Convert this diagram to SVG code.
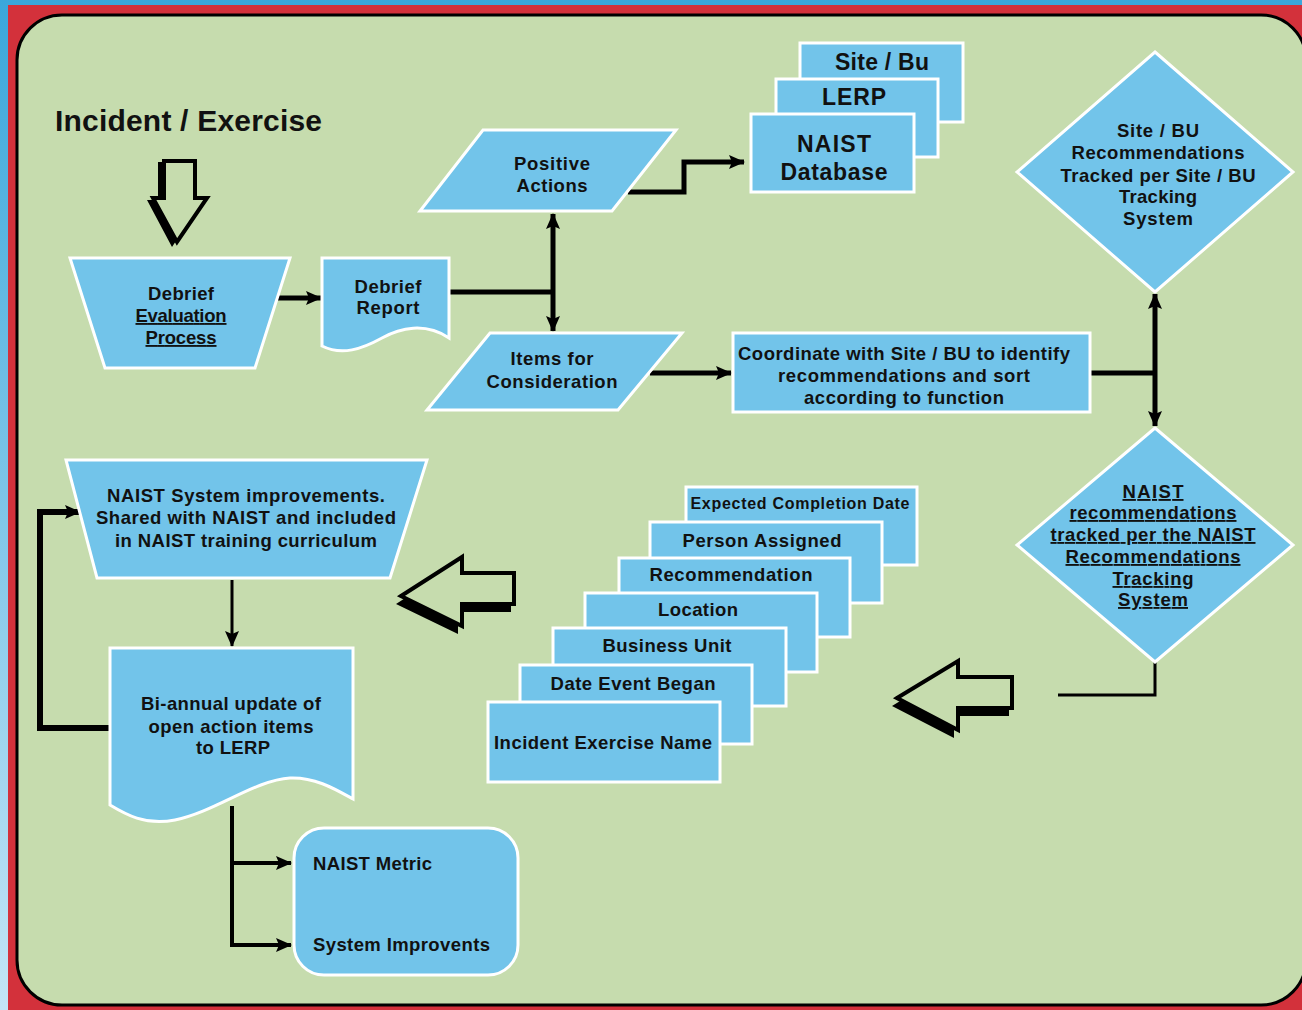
<svg xmlns="http://www.w3.org/2000/svg" width="1302" height="1010" viewBox="0 0 1302 1010">
<defs>
<linearGradient id="bg" x1="0" y1="0" x2="0" y2="1">
<stop offset="0" stop-color="#3aa7db"/>
<stop offset="1" stop-color="#c4e5f6"/>
</linearGradient>
<marker id="ah" viewBox="0 0 16 14" refX="15" refY="7" markerWidth="16" markerHeight="14" markerUnits="userSpaceOnUse" orient="auto-start-reverse">
<path d="M0,0 L16,7 L0,14 L3,7 Z" fill="#000"/>
</marker>
<style>
.box{fill:#72c4ea;stroke:#fff;stroke-width:3}
.t{font-family:"Liberation Sans",Arial,sans-serif;font-weight:bold;fill:#111;text-anchor:middle}
.s17{font-size:18.5px}
.s22{font-size:23px}
.u{text-decoration:underline}
.c{fill:none;stroke:#000;stroke-linejoin:miter}
.hollow{fill:#c6dcae;stroke:#000;stroke-width:4;stroke-linejoin:miter}
</style>
</defs>
<rect x="0" y="0" width="1302" height="1010" fill="url(#bg)"/>
<rect x="8" y="5" width="1302" height="1010" fill="#d3313b"/>
<rect x="17" y="15" width="1289" height="990" rx="45" ry="45" fill="#c6dcae" stroke="#000" stroke-width="3"/>

<text class="t" x="55" y="131" font-size="30" style="text-anchor:start" textLength="267">Incident / Exercise</text>

<g id="connectors">
<polygon points="158,162 190,162 190,200 203,200 172,247 147,200 158,200" fill="#000"/>
<polygon class="hollow" points="164,161 195,161 195,198 207,198 177,242 153,198 164,198"/>
<polygon points="396,604 458,564 458,580 511,580 511,612 458,612 458,634" fill="#000"/>
<polygon class="hollow" points="401,596 462,557 462,573 514,573 514,604 462,604 462,626"/>
<polygon points="892,706 954,668 954,684 1009,684 1009,716 954,716 954,738" fill="#000"/>
<polygon class="hollow" points="897,698 958,661 958,677 1012,677 1012,708 958,708 958,730"/>

<line class="c" x1="278" y1="298" x2="321" y2="298" stroke-width="5" marker-end="url(#ah)"/>
<polyline class="c" points="450,292 553,292" stroke-width="5"/>
<line class="c" x1="553" y1="214" x2="553" y2="331" stroke-width="5" marker-start="url(#ah)" marker-end="url(#ah)"/>
<polyline class="c" points="628,192 684,192 684,162 744,162" stroke-width="5" marker-end="url(#ah)"/>
<line class="c" x1="650" y1="373" x2="731" y2="373" stroke-width="5" marker-end="url(#ah)"/>
<polyline class="c" points="1090,373 1155,373" stroke-width="5"/>
<line class="c" x1="1155" y1="294" x2="1155" y2="426" stroke-width="5" marker-start="url(#ah)" marker-end="url(#ah)"/>
<polyline class="c" points="1155,662 1155,695 1058,695" stroke-width="3"/>
<line class="c" x1="232" y1="580" x2="232" y2="646" stroke-width="3" marker-end="url(#ah)"/>
<polyline class="c" points="110,728 40,728 40,512 80,512" stroke-width="6" marker-end="url(#ah)"/>
<polyline class="c" points="232,806 232,945 291,945" stroke-width="4" marker-end="url(#ah)"/>
<line class="c" x1="232" y1="863" x2="291" y2="863" stroke-width="4" marker-end="url(#ah)"/>
</g>

<g id="debrief-evaluation">
<polygon class="box" points="70,258 290,258 255,368 105,368"/>
<text class="t s17" x="181" y="300" textLength="66">Debrief</text>
<text class="t s17 u" x="181" y="322" textLength="91">Evaluation</text>
<text class="t s17 u" x="181" y="344" textLength="71">Process</text>
</g>

<g id="debrief-report">
<path class="box" d="M322,258 H449 V338 C425,322 400,328 382,338 C362,349 342,356 322,346 Z"/>
<text class="t s17" x="388" y="293" textLength="67">Debrief</text>
<text class="t s17" x="388" y="314" textLength="63">Report</text>
</g>

<g id="positive-actions">
<polygon class="box" points="483,130 676,130 612,211 420,211"/>
<text class="t s17" x="552" y="170" textLength="76">Positive</text>
<text class="t s17" x="552" y="192" textLength="71">Actions</text>
</g>

<g id="items-for-consideration">
<polygon class="box" points="490,333 682,333 618,410 427,410"/>
<text class="t s17" x="552" y="365" textLength="83">Items for</text>
<text class="t s17" x="552" y="388" textLength="131">Consideration</text>
</g>

<g id="site-bu">
<rect class="box" x="800" y="43" width="163" height="79"/>
<text class="t s22" x="882" y="70" textLength="94">Site / Bu</text>
</g>
<g id="lerp">
<rect class="box" x="776" y="79" width="162" height="78"/>
<text class="t s22" x="854" y="105" textLength="64">LERP</text>
</g>
<g id="naist-database">
<rect class="box" x="751" y="114" width="163" height="78"/>
<text class="t s22" x="834" y="152" textLength="74">NAIST</text>
<text class="t s22" x="834" y="180" textLength="107">Database</text>
</g>

<g id="coordinate">
<rect class="box" x="733" y="333" width="357" height="79"/>
<text class="t s17" x="904" y="360" textLength="332">Coordinate with Site / BU to identify</text>
<text class="t s17" x="904" y="382" textLength="252">recommendations and sort</text>
<text class="t s17" x="904" y="404" textLength="200">according to function</text>
</g>

<g id="site-bu-tracking">
<polygon class="box" points="1155,52 1293,172 1155,292 1017,172"/>
<text class="t s17" x="1158" y="137" textLength="82">Site / BU</text>
<text class="t s17" x="1158" y="159" textLength="173">Recommendations</text>
<text class="t s17" x="1158" y="182" textLength="195">Tracked per Site / BU</text>
<text class="t s17" x="1158" y="203" textLength="78">Tracking</text>
<text class="t s17" x="1158" y="225" textLength="70">System</text>
</g>

<g id="naist-tracking">
<polygon class="box" points="1155,428 1293,545 1155,662 1017,545"/>
<text class="t s17 u" x="1153" y="498" textLength="61">NAIST</text>
<text class="t s17 u" x="1153" y="519" textLength="167">recommendations</text>
<text class="t s17 u" x="1153" y="541" textLength="205">tracked per the NAIST</text>
<text class="t s17 u" x="1153" y="563" textLength="175">Recommendations</text>
<text class="t s17 u" x="1153" y="585" textLength="81">Tracking</text>
<text class="t s17 u" x="1153" y="606" textLength="70">System</text>
</g>

<g id="expected-completion-date">
<rect class="box" x="686" y="487" width="231" height="78"/>
<text class="t" font-size="16" x="800" y="509" textLength="219">Expected Completion Date</text>
</g>
<g id="person-assigned">
<rect class="box" x="650" y="522" width="232" height="81"/>
<text class="t s17" x="762" y="547" textLength="159">Person Assigned</text>
</g>
<g id="recommendation">
<rect class="box" x="619" y="558" width="231" height="79"/>
<text class="t s17" x="731" y="581" textLength="163">Recommendation</text>
</g>
<g id="location">
<rect class="box" x="585" y="593" width="232" height="79"/>
<text class="t s17" x="698" y="616" textLength="80">Location</text>
</g>
<g id="business-unit">
<rect class="box" x="553" y="628" width="233" height="78"/>
<text class="t s17" x="667" y="652" textLength="129">Business Unit</text>
</g>
<g id="date-event-began">
<rect class="box" x="520" y="665" width="232" height="79"/>
<text class="t s17" x="633" y="690" textLength="165">Date Event Began</text>
</g>
<g id="incident-exercise-name">
<rect class="box" x="488" y="702" width="232" height="80"/>
<text class="t s17" x="603" y="749" textLength="218">Incident Exercise Name</text>
</g>

<g id="naist-system-improvements">
<polygon class="box" points="66,460 427,460 390,578 97,578"/>
<text class="t s17" x="246" y="502" textLength="278">NAIST System improvements.</text>
<text class="t s17" x="246" y="524" textLength="300">Shared with NAIST and included</text>
<text class="t s17" x="246" y="547" textLength="262">in NAIST training curriculum</text>
</g>

<g id="bi-annual-update">
<path class="box" d="M110,648 H353 V799 C335,789 315,777 290,778 C255,780 215,812 175,820 C145,826 125,814 110,805 Z"/>
<text class="t s17" x="231" y="710" textLength="180">Bi-annual update of</text>
<text class="t s17" x="231" y="733" textLength="165">open action items</text>
<text class="t s17" x="233" y="754" textLength="74">to LERP</text>
</g>

<g id="naist-metric">
<rect class="box" x="294" y="828" width="224" height="147" rx="30" ry="30"/>
<text class="t s17" x="313" y="870" style="text-anchor:start" textLength="119">NAIST Metric</text>
<text class="t s17" x="313" y="951" style="text-anchor:start" textLength="177">System Improvents</text>
</g>
</svg>
